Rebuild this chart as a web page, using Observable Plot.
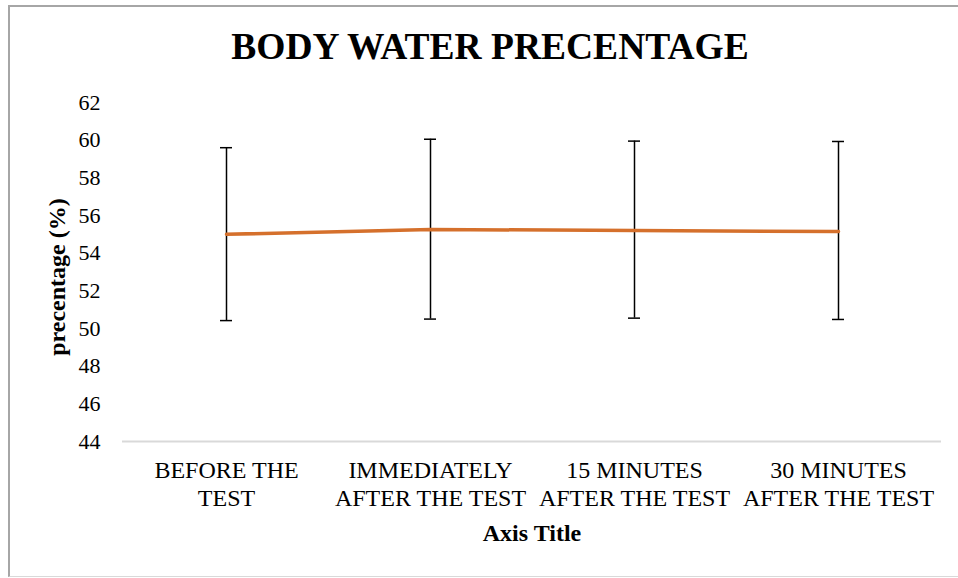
<!DOCTYPE html>
<html>
<head>
<meta charset="utf-8">
<script src="https://cdn.jsdelivr.net/npm/d3@7"></script>
<script src="https://cdn.jsdelivr.net/npm/@observablehq/plot@0.6"></script>
<style>
  html, body { margin: 0; padding: 0; background: #fff; overflow: hidden; }
  #wrap { position: relative; width: 958px; height: 578px; font-family: "Liberation Serif", "Times New Roman", serif; }
  #frame { position: absolute; left: 8px; top: 5px; width: 1000px; height: 572px;
           border-left: 2px solid #a6a6a6; border-top: 2px solid #a6a6a6; border-bottom: 1px solid #d9d9d9; box-sizing: border-box; }
  #title { position: absolute; left: 0; top: 0; width: 980px; height: 80px; text-align: center;
           font-weight: bold; font-size: 37.5px; line-height: 1; padding-top: 28px; box-sizing: border-box; color: #000; }
  #chart { position: absolute; left: 0; top: 80px; }
</style>
</head>
<body>
<div id="wrap">
  <div id="frame"></div>
  <div id="title">BODY WATER PRECENTAGE</div>
  <div id="chart"></div>
</div>
<script>
const categories = ["BEFORE THE\nTEST", "IMMEDIATELY\nAFTER THE TEST", "15 MINUTES\nAFTER THE TEST", "30 MINUTES\nAFTER THE TEST"];
const means = [55.0, 55.26, 55.2, 55.15];
const upper = [59.6, 60.05, 59.95, 59.93];
const lower = [50.42, 50.5, 50.55, 50.48];
const yTicks = [44, 46, 48, 50, 52, 54, 56, 58, 60, 62];
const yLabel = "precentage (%)";
const xLabel = "Axis Title";

const data = categories.map((c, i) => ({cat: c, mean: means[i], hi: upper[i], lo: lower[i]}));
const font = "Liberation Serif, Times New Roman, serif";
const capInset = 96;

const chart = Plot.plot({
  width: 958,
  height: 498,
  marginLeft: 122,
  marginRight: 17,
  marginTop: 22,
  marginBottom: 137,
  style: {fontFamily: font, fontSize: "22px", color: "#000", background: "transparent"},
  x: {type: "band", domain: categories, padding: 0, align: 0.5},
  y: {domain: [44, 62]},
  marks: [
    Plot.ruleY([44], {stroke: "#d9d9d9", strokeWidth: 2}),
    Plot.axisY({ticks: yTicks, tickSize: 0, tickPadding: 22, label: null, fontSize: 22, fill: "#000"}),
    Plot.axisX({tickSize: 0, tickPadding: 17, label: null, fontSize: 24, lineHeight: 1.15, fill: "#000"}),
    Plot.ruleX(data, {x: "cat", y1: "lo", y2: "hi", stroke: "#000", strokeWidth: 1.5}),
    Plot.tickY(data, {x: "cat", y: "hi", stroke: "#000", strokeWidth: 1.5, insetLeft: capInset, insetRight: capInset}),
    Plot.tickY(data, {x: "cat", y: "lo", stroke: "#000", strokeWidth: 1.5, insetLeft: capInset, insetRight: capInset}),
    Plot.line(data, {x: "cat", y: "mean", stroke: "#d5702c", strokeWidth: 3.5}),
    Plot.text([yLabel], {frameAnchor: "left", textAnchor: "middle", dx: -65, dy: 5, rotate: -90, text: d => d, fontWeight: "bold", fontSize: 24, fill: "#000", lineAnchor: "middle"}),
    Plot.text([xLabel], {frameAnchor: "bottom", textAnchor: "middle", dy: 92, text: d => d, fontWeight: "bold", fontSize: 24, fill: "#000", lineAnchor: "middle"})
  ]
});
document.getElementById("chart").appendChild(chart);
</script>
</body>
</html>
